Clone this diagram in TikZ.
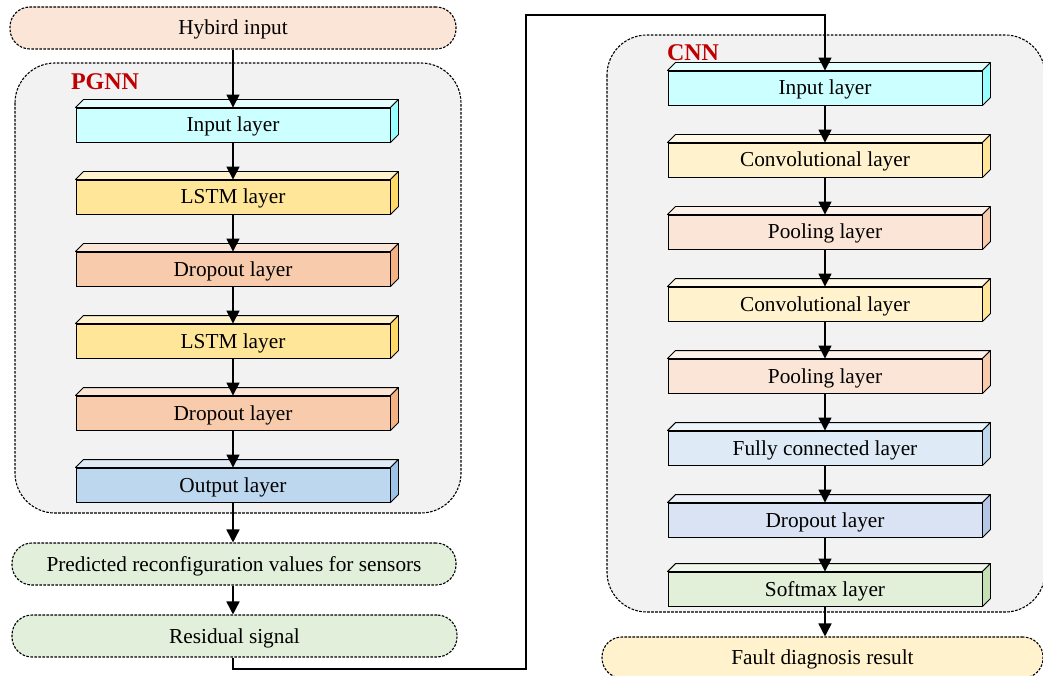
\documentclass[tikz,border=0pt]{standalone}
\usepackage{fontspec}
\setmainfont{Liberation Serif}
\usetikzlibrary{arrows.meta}
\definecolor{contF}{HTML}{F2F2F2}
\definecolor{peach}{HTML}{FBE5D6}
\definecolor{green1}{HTML}{E2EFDA}
\definecolor{yellow1}{HTML}{FFF2CC}
\definecolor{labred}{HTML}{C00000}
% layer colours: front / top / side
\definecolor{inpF}{HTML}{CCFFFF}\definecolor{inpT}{HTML}{E5FFFF}\definecolor{inpS}{HTML}{99FFFF}
\definecolor{lstF}{HTML}{FFE699}\definecolor{lstT}{HTML}{FFF2CC}\definecolor{lstS}{HTML}{FFD966}
\definecolor{droF}{HTML}{F8CBAD}\definecolor{droT}{HTML}{FBE5D6}\definecolor{droS}{HTML}{F4B183}
\definecolor{outF}{HTML}{BDD7EE}\definecolor{outT}{HTML}{DEEBF7}\definecolor{outS}{HTML}{9DC3E6}
\definecolor{conF}{HTML}{FFF2CC}\definecolor{conT}{HTML}{FFF9E5}\definecolor{conS}{HTML}{FFE699}
\definecolor{poolF}{HTML}{FBE5D6}\definecolor{poolT}{HTML}{FDF2EA}\definecolor{poolS}{HTML}{F8CBAD}
\definecolor{fcF}{HTML}{DEEBF7}\definecolor{fcT}{HTML}{EEF5FB}\definecolor{fcS}{HTML}{BDD7EE}
\definecolor{cdrF}{HTML}{DAE3F3}\definecolor{cdrT}{HTML}{ECF1F9}\definecolor{cdrS}{HTML}{B4C7E7}
\definecolor{sofF}{HTML}{E2F0D9}\definecolor{sofT}{HTML}{F0F7EC}\definecolor{sofS}{HTML}{C5E0B4}
\newcommand\mklayer[5]{% name, centre x, front-top y, text, colour prefix
  \node[layerbox, fill=#5F] (#1) at (#2, #3+17) {#4};
  \draw[facebox, fill=#5T] (#1.north west) -- ++(8,-8) -- ([shift={(8,-8)}]#1.north east) -- (#1.north east) -- cycle;
  \draw[facebox, fill=#5S] (#1.north east) -- ++(8,-8) -- ([shift={(8,-8)}]#1.south east) -- (#1.south east) -- cycle;
}
\begin{document}
\begin{tikzpicture}[x=1pt, y=-1pt,
  font=\fontsize{21.3}{25}\selectfont,
  txt/.style={text height=18pt, text depth=4pt},
  dotline/.style={draw=black, line width=1.1pt, dash pattern=on 2.6pt off 1.4pt},
  container/.style={dotline, fill=contF, rounded corners=40pt},
  pill/.style={dotline, txt, rounded corners=20pt, minimum height=42pt, inner sep=0pt},
  layerbox/.style={draw=black, txt, line width=0.9pt, minimum width=314pt, minimum height=34pt, inner sep=0pt},
  facebox/.style={draw=black, line width=0.9pt, line join=round},
  flow/.style={line width=1.6pt, -{Triangle[length=13pt, width=13pt]}},
  grouplabel/.style={text=labred, font=\fontsize{24}{28}\selectfont\bfseries}
]
\useasboundingbox (0,0) rectangle (1043,676);
% containers
\draw[container] (15,63) rectangle (461,513);
\draw[container] (607,35) rectangle (1045,612);
\node[grouplabel] (pgnnlab) at (105,81.5) {PGNN};
\node[grouplabel] (cnnlab) at (693,52.5) {CNN};
% pills
\node[pill, fill=peach, minimum width=446pt] (hyb) at (233,28) {Hybird input};
\node[pill, fill=green1, minimum width=444pt] (pred) at (234,564) {Predicted reconfiguration values for sensors};
\node[pill, fill=green1, minimum width=445pt] (res) at (234.5,636) {Residual signal};
\node[pill, fill=yellow1, minimum width=441pt, minimum height=41pt] (fault) at (822.5,657.5) {Fault diagnosis result};
% PGNN layers
\mklayer{p1}{233}{108}{Input layer}{inp}
\mklayer{p2}{233}{180}{LSTM layer}{lst}
\mklayer{p3}{233}{252}{Dropout layer}{dro}
\mklayer{p4}{233}{324}{LSTM layer}{lst}
\mklayer{p5}{233}{396}{Dropout layer}{dro}
\mklayer{p6}{233}{468}{Output layer}{out}
% CNN layers
\mklayer{c1}{825}{71}{Input layer}{inp}
\mklayer{c2}{825}{143}{Convolutional layer}{con}
\mklayer{c3}{825}{215}{Pooling layer}{pool}
\mklayer{c4}{825}{287}{Convolutional layer}{con}
\mklayer{c5}{825}{359}{Pooling layer}{pool}
\mklayer{c6}{825}{431}{Fully connected layer}{fc}
\mklayer{c7}{825}{503}{Dropout layer}{cdr}
\mklayer{c8}{825}{572}{Softmax layer}{sof}
% connectors
\draw[flow] (hyb.south -| p1.north) -- (p1.north);
\foreach \a/\b in {p1/p2,p2/p3,p3/p4,p4/p5,p5/p6,c1/c2,c2/c3,c3/c4,c4/c5,c5/c6,c6/c7,c7/c8}
  \draw[flow] (\a.south) -- (\b.north);
\draw[flow] (p6.south) -- (p6.south |- pred.north);
\draw[flow] (p6.south |- pred.south) -- (p6.south |- res.north);
\draw[flow] (c8.south) -- (c8.south |- fault.north);
\coordinate (k1) at (233,669);
\coordinate (k2) at (526,669);
\coordinate (k3) at (526,15);
\coordinate (k4) at (825,15);
\draw[flow, line join=miter] (p6.south |- res.south) -- (k1) -- (k2) -- (k3) -- (k4) -- (c1.north);
\end{tikzpicture}
\end{document}
